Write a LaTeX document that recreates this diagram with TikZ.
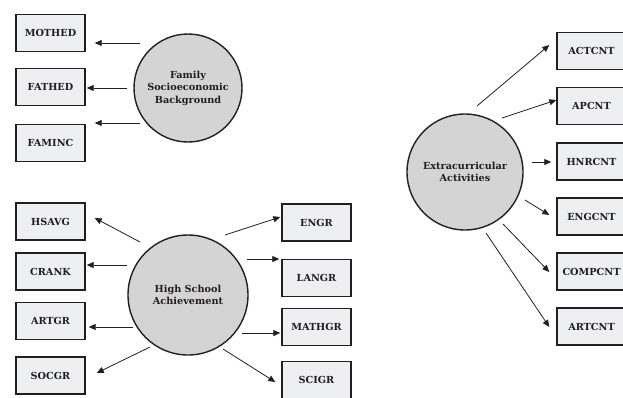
\documentclass[tikz,border=0pt]{standalone}
\usepackage{fontspec}
\setmainfont{DejaVu Serif}
\usetikzlibrary{arrows.meta,calc}
\definecolor{boxfill}{HTML}{EEEFF1}
\definecolor{circfill}{HTML}{D4D4D4}
\definecolor{ink}{HTML}{231F20}
\begin{document}
\begin{tikzpicture}[x=1pt,y=-1pt,
  every node/.style={font=\fontsize{9.7}{12.5}\selectfont\bfseries, text=ink},
  obs/.style={draw=ink, line width=1.4pt, fill=boxfill, minimum width=69pt, minimum height=37pt, inner sep=0pt},
  lat/.style={draw=ink, line width=1.4pt, fill=circfill, circle, inner sep=0pt, align=center},
  arr/.style={draw=ink, line width=0.8pt, -{Triangle[length=7pt,width=6pt]}}]
\useasboundingbox (0,0) rectangle (623,397);
\clip (0,0) rectangle (623,397);
\fill[white] (0,0) rectangle (623,397);

% Family
\node[lat, minimum size=108pt] (fam) at (188,88) {Family\\Socioeconomic\\Background};
\node[obs] (mothed) at (50.5,33) {MOTHED};
\node[obs] (fathed) at (50.5,87) {FATHED};
\node[obs] (faminc) at (50.5,143) {FAMINC};
\draw[arr] ($(fam.center)+(-48,-45)$) -- ($(mothed.east)+(9,10)$);
\draw[arr] ($(fam.center)+(-61,0)$) -- ($(fathed.east)+(1,1)$);
\draw[arr] ($(fam.center)+(-48,35)$) -- ($(faminc.east)+(9,-20)$);

% High school
\node[lat, minimum size=120pt] (hsa) at (188,295) {High School\\Achievement};
\node[obs] (hsavg) at (50.5,221.5) {HSAVG};
\node[obs] (crank) at (50.5,271.5) {CRANK};
\node[obs] (artgr) at (50.5,321) {ARTGR};
\node[obs] (socgr) at (50.5,375.5) {SOCGR};
\node[obs] (engr) at (316.5,222.5) {ENGR};
\node[obs] (langr) at (316.5,278) {LANGR};
\node[obs] (mathgr) at (316.5,327) {MATHGR};
\node[obs] (scigr) at (316.5,380) {SCIGR};
\draw[arr] ($(hsa.center)+(-48,-53)$) -- ($(hsavg.east)+(9,-3.5)$);
\draw[arr] ($(hsa.center)+(-61,-30)$) -- ($(crank.east)+(1,-6.5)$);
\draw[arr] ($(hsa.center)+(-55,32)$) -- ($(artgr.east)+(3,6)$);
\draw[arr] ($(hsa.center)+(-38,52)$) -- ($(socgr.east)+(11,-2.5)$);
\draw[arr] ($(hsa.center)+(37,-60)$) -- ($(engr.west)+(-1,-5.5)$);
\draw[arr] ($(hsa.center)+(59,-36)$) -- ($(langr.west)+(-2,-19)$);
\draw[arr] ($(hsa.center)+(54,38)$) -- ($(mathgr.west)+(-1,6)$);
\draw[arr] ($(hsa.center)+(35,54)$) -- ($(scigr.west)+(-6,2)$);

% Extracurricular
\node[lat, minimum size=116pt] (eca) at (465,172) {Extracurricular\\Activities};
\node[obs] (actcnt) at (591.5,51) {ACTCNT};
\node[obs] (apcnt) at (591.5,106) {APCNT};
\node[obs] (hnrcnt) at (591.5,161.5) {HNRCNT};
\node[obs] (engcnt) at (591.5,216.5) {ENGCNT};
\node[obs] (compcnt) at (591.5,271.5) {COMPCNT};
\node[obs] (artcnt) at (591.5,326.5) {ARTCNT};
\draw[arr] ($(eca.center)+(12,-66)$) -- ($(actcnt.west)+(-7,-6)$);
\draw[arr] ($(eca.center)+(37,-54)$) -- ($(apcnt.west)+(0,-6)$);
\draw[arr] ($(eca.center)+(67,-10)$) -- ($(hnrcnt.west)+(-5,0.5)$);
\draw[arr] ($(eca.center)+(60,28)$) -- ($(engcnt.west)+(-7,-1.5)$);
\draw[arr] ($(eca.center)+(38,52)$) -- ($(compcnt.west)+(-7,0.5)$);
\draw[arr] ($(eca.center)+(21,61)$) -- ($(artcnt.west)+(-7,0.5)$);
\end{tikzpicture}
\end{document}
